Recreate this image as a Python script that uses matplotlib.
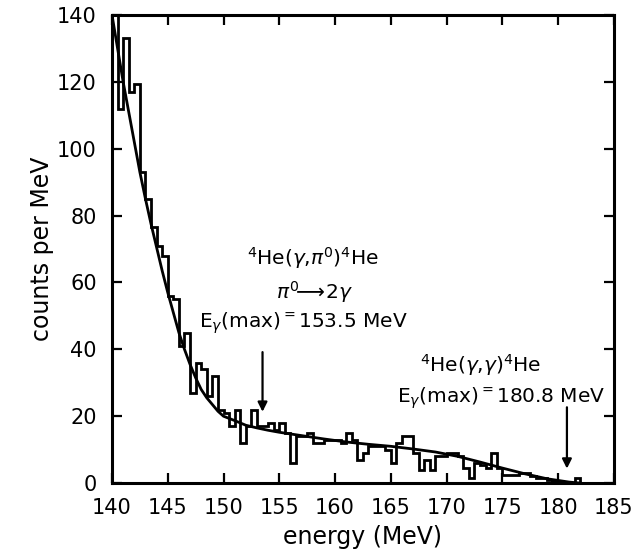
import numpy as np
import matplotlib
matplotlib.use("Agg")
import matplotlib.pyplot as plt

# ---- data ----
bin_start = 140.0
bin_width = 0.5
counts = [140, 112, 133, 117, 119.5, 93, 85, 76.5, 71, 68,
          56, 55, 41, 45, 27, 36, 34, 26, 32, 22,
          21, 17, 22, 12, 17, 22, 17, 17, 18, 16,
          18, 15, 6, 14, 14, 15, 12, 12, 13, 13,
          13, 12, 15, 13, 7, 9, 11, 11, 11, 10,
          6, 12, 14, 14, 9, 4, 7, 4, 8, 8,
          9, 9, 8, 4.5, 1.5, 6, 5.5, 4.5, 9, 4.5,
          2.5, 2.5, 2.5, 3, 3, 2, 1.5, 1.5, 1, 0.5,
          0, 0, 0, 1.5, 0]

fit_energy = [140.0, 140.5, 141.0, 141.5, 142.0, 142.5, 143.0, 143.5, 144.0, 144.5,
              145.0, 145.5, 146.0, 146.5, 147.0, 147.5, 148.0, 148.5, 149.0, 149.5,
              150.0, 151.0, 152.0, 153.0, 154.0, 155.0, 157.0, 159.0, 161.0, 163.0,
              165.0, 167.0, 169.0, 171.0, 173.0, 175.0, 177.0, 179.0, 181.0, 182.0]
fit_counts = [140, 130, 120, 111, 102, 93, 85, 77.5, 70.5, 63.5,
              57, 51, 45, 40, 35.5, 31.5, 28, 25.5, 23.5, 21.5,
              20, 18.7, 17.3, 16.5, 15.8, 15.2, 14.2, 13.2, 12.3, 11.6,
              11.0, 10.2, 9.3, 8.0, 6.3, 4.5, 2.8, 1.3, 0.3, 0.0]

x_ticks = [140, 145, 150, 155, 160, 165, 170, 175, 180, 185]
y_ticks = [0, 20, 40, 60, 80, 100, 120, 140]

arrow_energies = [153.5, 180.8]

# ---- plot ----
plt.rcParams['font.family'] = ['DejaVu Sans']
plt.rcParams['mathtext.fontset'] = 'dejavusans'

fig = plt.figure(figsize=(6.4, 5.54), dpi=100)
ax = fig.add_axes([0.175, 0.128, 0.784, 0.845])

edges = bin_start + bin_width * np.arange(len(counts) + 1)
ax.stairs(counts, edges, color='black', lw=2.0, baseline=None)
ax.plot(fit_energy, fit_counts, color='black', lw=2.0)

ax.set_xlim(140, 185)
ax.set_ylim(0, 140)
ax.set_xticks(x_ticks)
ax.set_yticks(y_ticks)
ax.tick_params(direction='in', length=7, width=1.6, top=True, right=True,
               labelsize=15, pad=11)
for s in ax.spines.values():
    s.set_linewidth(2.2)

ax.set_xlabel('energy (MeV)', fontsize=17, labelpad=5)
ax.set_ylabel('counts per MeV', fontsize=17, labelpad=2)

fs = 14.5
ax.text(158.0, 67.3, r'$^4$He($\gamma$,$\pi^0$)$^4$He', ha='center', va='center', fontsize=fs)
ax.text(158.2, 57.0, r'$\pi^0\!\!\longrightarrow\!2\gamma$', ha='center', va='center', fontsize=fs)
ax.text(157.2, 47.8, r'E$_\gamma$(max)$^=$153.5 MeV', ha='center', va='center', fontsize=fs)
ax.text(173.1, 35.3, r'$^4$He($\gamma$,$\gamma$)$^4$He', ha='center', va='center', fontsize=fs)
ax.text(174.9, 25.4, r'E$_\gamma$(max)$^=$180.8 MeV', ha='center', va='center', fontsize=fs)

ax.annotate('', xy=(arrow_energies[0], 20.5), xytext=(arrow_energies[0], 40),
            arrowprops=dict(arrowstyle='-|>', lw=1.6, color='black', mutation_scale=14))
ax.annotate('', xy=(arrow_energies[1], 3.5), xytext=(arrow_energies[1], 23.5),
            arrowprops=dict(arrowstyle='-|>', lw=1.6, color='black', mutation_scale=14))

fig.savefig('out.png', dpi=100)
